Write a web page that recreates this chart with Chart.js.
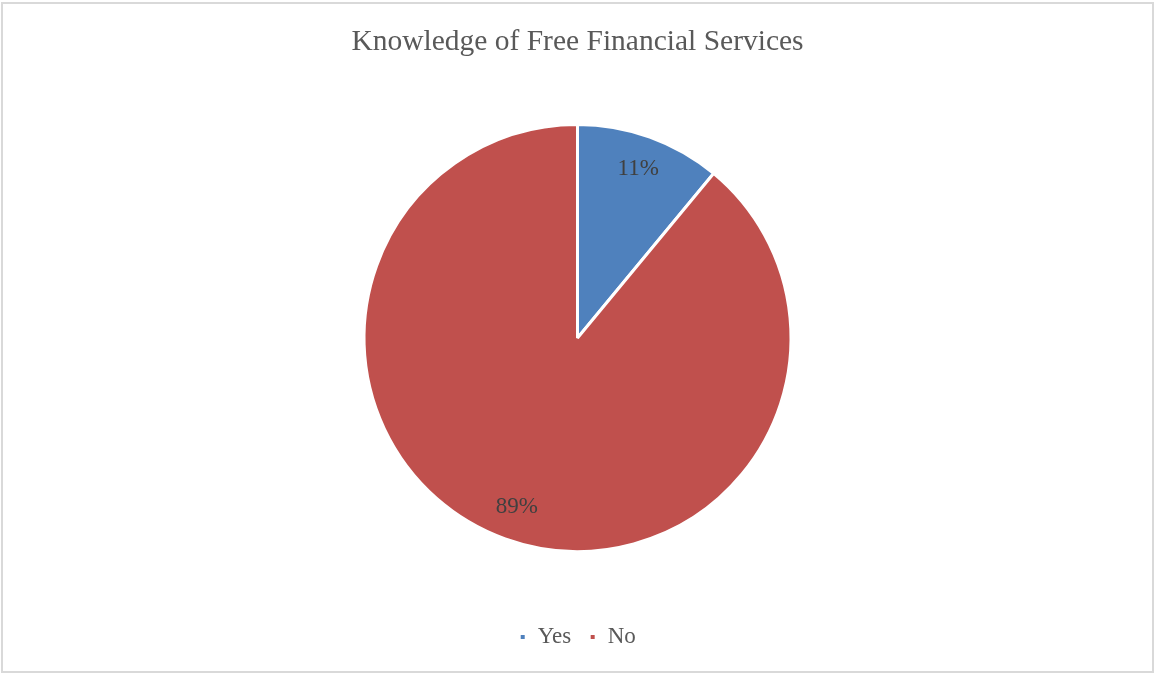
<!DOCTYPE html>
<html>
<head>
<meta charset="utf-8">
<title>Knowledge of Free Financial Services</title>
<script src="https://cdn.jsdelivr.net/npm/chart.js@4"></script>
<style>
  html, body { margin: 0; padding: 0; background: #ffffff; }
  #frame {
    position: absolute; left: 1px; top: 2px;
    width: 1153px; height: 671px;
    box-sizing: border-box;
    border: 2px solid #d9d9d9;
  }
  #wrap { position: absolute; left: 0; top: 0; width: 1155px; height: 675px; }
</style>
</head>
<body>
<div id="frame"></div>
<div id="wrap"><canvas id="myChart" width="1155" height="675"></canvas></div>
<script>
var labels = ['Yes', 'No'];
var shares = [11, 89];
var sliceColors = ['#4f81bd', '#c0504d'];

var serif = '"Liberation Serif", "Times New Roman", serif';

// percent labels drawn inside each slice
var sliceLabels = {
    id: 'sliceLabels',
    afterDatasetsDraw: function(chart) {
        var ctx = chart.ctx;
        var meta = chart.getDatasetMeta(0);
        ctx.save();
        ctx.font = '23px ' + serif;
        ctx.fillStyle = '#404040';
        ctx.textAlign = 'center';
        ctx.textBaseline = 'middle';
        meta.data.forEach(function(arc, i) {
            var p = arc.getProps(['x', 'y', 'startAngle', 'endAngle', 'outerRadius'], true);
            var mid = (p.startAngle + p.endAngle) / 2;
            var r = p.outerRadius * 0.84;
            ctx.fillText(shares[i] + '%', p.x + Math.cos(mid) * r, p.y + Math.sin(mid) * r);
        });
        ctx.restore();
    }
};

window.onload = function() {
    var ctx = document.getElementById('myChart').getContext('2d');
    var myChart = new Chart(ctx, {
        type: 'pie',
        data: {
            labels: labels,
            datasets: [{
                data: shares,
                backgroundColor: sliceColors,
                borderColor: '#ffffff',
                borderWidth: 3,
                radius: 213.5
            }]
        },
        options: {
            responsive: false,
            animation: false,
            layout: { padding: { bottom: 16.5 } },
            plugins: {
                title: {
                    display: true,
                    text: 'Knowledge of Free Financial Services',
                    color: '#595959',
                    font: { family: serif, size: 29.5, weight: 'normal' },
                    padding: { top: 25, bottom: 8 }
                },
                legend: {
                    position: 'bottom',
                    labels: {
                        color: '#595959',
                        font: { family: serif, size: 23 },
                        boxWidth: 7,
                        boxHeight: 7,
                        padding: 18
                    }
                },
                tooltip: { enabled: false }
            }
        },
        plugins: [sliceLabels]
    });
};
</script>
</body>
</html>
